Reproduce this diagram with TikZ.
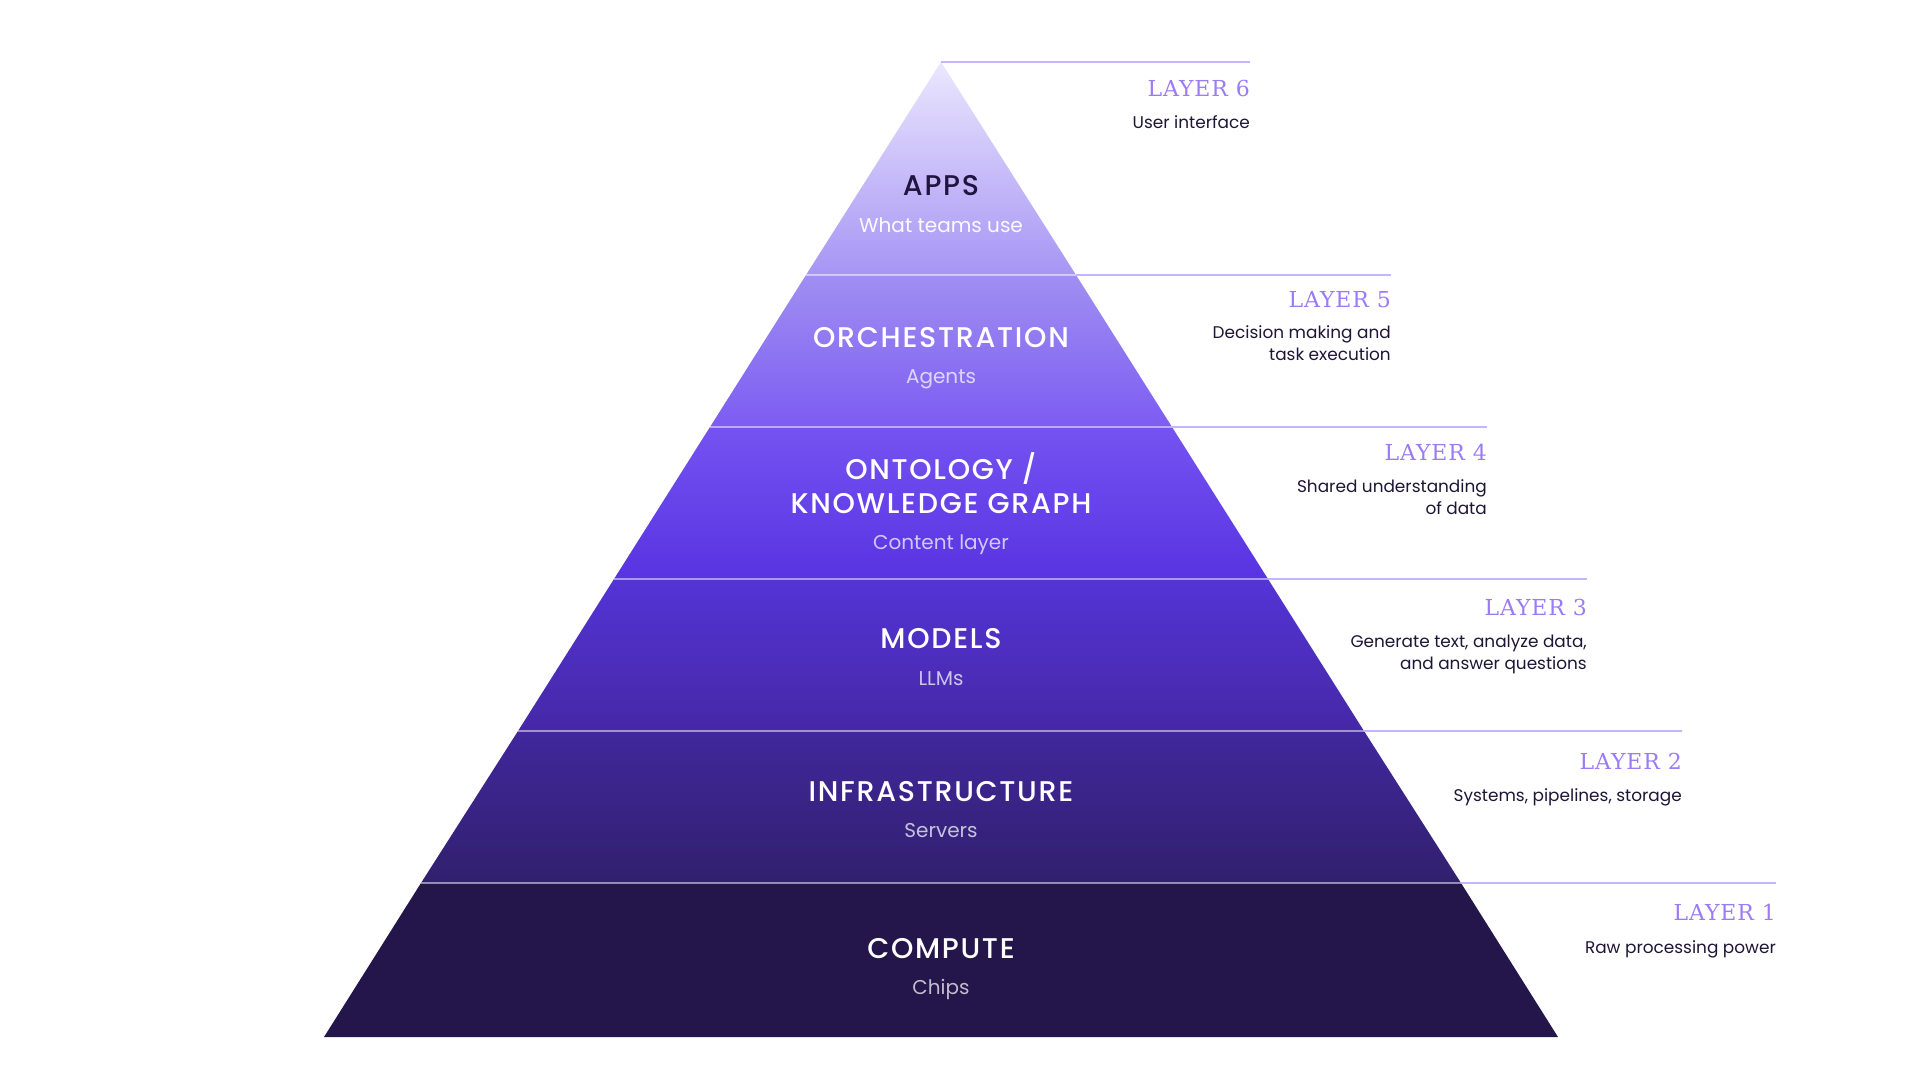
\documentclass[tikz,border=0pt]{standalone}
\usepackage{fontspec}
\setmainfont{Poppins}
\newfontfamily\headfont{Poppins Medium}[LetterSpace=6]
\newfontfamily\layerfont{DejaVu Serif}[LetterSpace=4]
\definecolor{apextop}{HTML}{EBE7FE}
\definecolor{appsbot}{HTML}{A695F4}
\definecolor{orchtop}{HTML}{A08FF2}
\definecolor{orchbot}{HTML}{7C5CF2}
\definecolor{ontotop}{HTML}{7453F1}
\definecolor{ontobot}{HTML}{5833E2}
\definecolor{modtop}{HTML}{5434D6}
\definecolor{modbot}{HTML}{4528A6}
\definecolor{infratop}{HTML}{41279C}
\definecolor{infrabot}{HTML}{31206D}
\definecolor{compute}{HTML}{24154A}
\definecolor{guidecol}{HTML}{C4B5FD}
\definecolor{lyrpurple}{HTML}{9B7BF6}
\definecolor{dscink}{HTML}{1E1636}
\definecolor{appsink}{HTML}{1F1540}
\usetikzlibrary{calc}

\begin{document}
\begin{tikzpicture}[x=1pt, y=-1pt,
  ttl/.style={font=\headfont\fontsize{28.5}{34.5}\selectfont, text=white, anchor=base, align=center, inner sep=0pt},
  sub/.style={font=\fontsize{20}{24}\selectfont, text=white, text opacity=0.72, anchor=base, inner sep=0pt},
  lyr/.style={font=\layerfont\fontsize{22}{26}\selectfont, text=lyrpurple, anchor=base east, inner sep=0pt},
  dsc/.style={font=\fontsize{16.9}{22}\selectfont, text=dscink, anchor=base east, align=right, inner sep=0pt},
  sep/.style={draw=white, draw opacity=0.5, line width=1.5pt},
  guide/.style={draw=guidecol, line width=2pt}]
\fill[white] (0,0) rectangle (1920,1080);
\useasboundingbox (0,0) rectangle (1920,1080);
% pyramid corners
\coordinate (apex) at (941,62);
\coordinate (l5) at (806,275);  \coordinate (r5) at (1076,275);
\coordinate (l4) at (710,427);  \coordinate (r4) at (1172,427);
\coordinate (l3) at (614,579);  \coordinate (r3) at (1268,579);
\coordinate (l2) at (518,731);  \coordinate (r2) at (1364,731);
\coordinate (l1) at (421,883);  \coordinate (r1) at (1461,883);
\coordinate (bl) at (324,1037); \coordinate (br) at (1558,1037);
% bands
\shade[top color=apextop, bottom color=appsbot] (apex) -- (r5) -- (l5) -- cycle;
\shade[top color=orchtop, bottom color=orchbot] (l5) -- (r5) -- (r4) -- (l4) -- cycle;
\shade[top color=ontotop, bottom color=ontobot] (l4) -- (r4) -- (r3) -- (l3) -- cycle;
\shade[top color=modtop, bottom color=modbot] (l3) -- (r3) -- (r2) -- (l2) -- cycle;
\shade[top color=infratop, bottom color=infrabot] (l2) -- (r2) -- (r1) -- (l1) -- cycle;
\fill[compute] (l1) -- (r1) -- (br) -- (bl) -- cycle;
% separators
\draw[sep] (l5) -- (r5);
\draw[sep] (l4) -- (r4);
\draw[sep] (l3) -- (r3);
\draw[sep] (l2) -- (r2);
\draw[sep] (l1) -- (r1);
% guide lines
\coordinate (e6) at (1250,62);
\coordinate (e5) at (1391,275);
\coordinate (e4) at (1487,427);
\coordinate (e3) at (1587,579);
\coordinate (e2) at (1682,731);
\coordinate (e1) at (1776,883);
\draw[guide] (apex) -- (e6);
\draw[guide] (r5) -- (e5);
\draw[guide] (r4) -- (e4);
\draw[guide] (r3) -- (e3);
\draw[guide] (r2) -- (e2);
\draw[guide] (r1) -- (e1);
% layer titles
\node[ttl, text=appsink] (apps) at (941,195) {APPS};
\node[sub, text opacity=0.95] (appssub) at (941,232) {What teams use};
\node[ttl] (orch) at (941,347) {ORCHESTRATION};
\node[sub] (orchsub) at (941,383) {Agents};
\node[ttl] (onto) at (941,513.5) {ONTOLOGY /\\KNOWLEDGE GRAPH};
\node[sub] (ontosub) at (941,549.5) {Content layer};
\node[ttl] (models) at (941,648) {MODELS};
\node[sub] (modelssub) at (941,685) {LLMs};
\node[ttl] (infra) at (941,801) {INFRASTRUCTURE};
\node[sub] (infrasub) at (941,837) {Servers};
\node[ttl] (comp) at (941,958) {COMPUTE};
\node[sub] (compsub) at (941,994) {Chips};
% side notes
\node[lyr] (lyr6) at (1250,96) {LAYER 6};
\node[dsc] (dsc6) at (1250,128) {User interface};
\node[lyr] (lyr5) at (1391,307) {LAYER 5};
\node[dsc] (dsc5) at (1391,360.5) {Decision making and\\task execution};
\node[lyr] (lyr4) at (1487,460) {LAYER 4};
\node[dsc] (dsc4) at (1487,514) {Shared understanding\\of data};
\node[lyr] (lyr3) at (1587,615) {LAYER 3};
\node[dsc] (dsc3) at (1587,669) {Generate text, analyze data,\\and answer questions};
\node[lyr] (lyr2) at (1682,769) {LAYER 2};
\node[dsc] (dsc2) at (1682,801) {Systems, pipelines, storage};
\node[lyr] (lyr1) at (1776,920) {LAYER 1};
\node[dsc] (dsc1) at (1776,953) {Raw processing power};
\end{tikzpicture}
\end{document}
